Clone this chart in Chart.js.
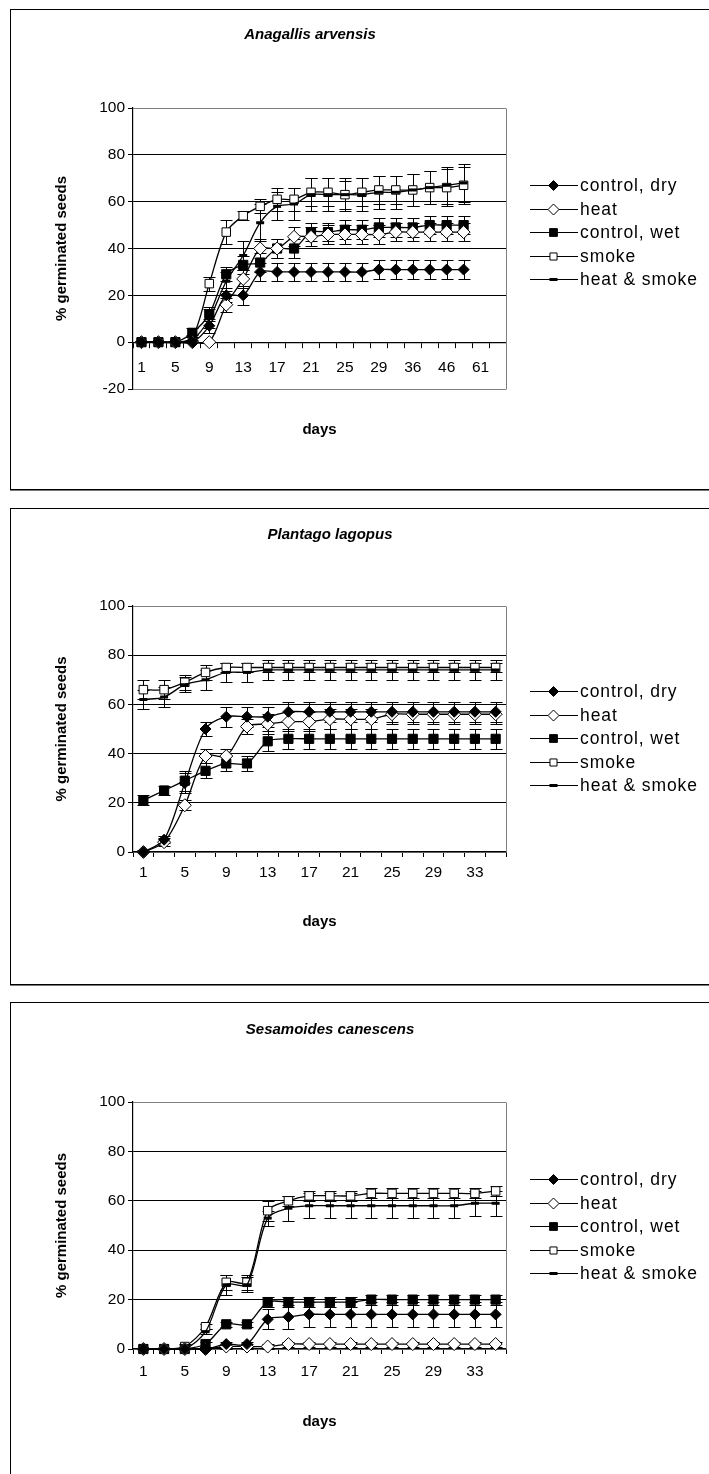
<!DOCTYPE html>
<html>
<head>
<meta charset="utf-8">
<script src="https://cdn.jsdelivr.net/npm/chart.js@4.4.1/dist/chart.umd.min.js"></script>
<style>
  html, body { margin: 0; padding: 0; background: #fff; width: 709px; height: 1474px; overflow: hidden; }
  .frame { position: absolute; left: 10px; width: 720px; border: 1px solid #000; box-shadow: 0 1px 0 #777; }
  canvas { position: absolute; left: 0; }
</style>
</head>
<body>
<div class="frame" style="top:9px;height:479px"></div>
<div class="frame" style="top:508px;height:475px"></div>
<div class="frame" style="top:1002px;height:520px"></div>
<canvas id="anagallis" width="709" height="480" style="top:9px"></canvas>
<canvas id="plantago" width="709" height="475" style="top:509px"></canvas>
<canvas id="sesamoides" width="709" height="471" style="top:1003px"></canvas>
<script>
// ---- series names ----
const SERIES_NAMES = ['control, dry', 'heat', 'control, wet', 'smoke', 'heat & smoke'];

// ---- Anagallis arvensis ----
const ANA_DAYS = [1, 3, 5, 7, 9, 11, 13, 15, 17, 19, 21, 23, 25, 27, 29, 32, 36, 41, 46, 53, 61, 68];
const ANA_CONTROL_DRY      = [0, 0, 0, 0, 7, 20, 20, 30, 30, 30, 30, 30, 30, 30, 31, 31, 31, 31, 31, 31];
const ANA_CONTROL_DRY_ERR  = [0, 0, 0, 0, 3, 3, 4, 4, 4, 4, 4, 4, 4, 4, 4, 4, 4, 4, 4, 4];
const ANA_HEAT             = [0, 0, 0, 0, 0, 16, 27, 40, 40, 45, 45, 46, 46, 46, 46, 47, 47, 47, 47, 47];
const ANA_HEAT_ERR         = [0, 0, 0, 0, 0, 3, 4, 4, 4, 4, 4, 4, 4, 4, 4, 4, 4, 4, 4, 4];
const ANA_CONTROL_WET      = [0, 0, 0, 4, 12, 29, 33, 34, 40, 40, 47, 47, 48, 48, 49, 49, 49, 50, 50, 50];
const ANA_CONTROL_WET_ERR  = [0, 0, 0, 2, 3, 3, 4, 4, 4, 4, 4, 4, 4, 4, 4, 4, 4, 4, 4, 4];
const ANA_SMOKE            = [0, 0, 0, 2, 25, 47, 54, 58, 61, 61, 64, 64, 63, 64, 65, 65, 65, 66, 66, 67];
const ANA_SMOKE_ERR        = [0, 0, 0, 1, 3, 5, 2, 3, 5, 5, 6, 6, 6, 6, 6, 6, 7, 7, 8, 8];
const ANA_HEAT_SMOKE       = [0, 0, 0, 1, 10, 26, 37, 51, 58, 59, 63, 63, 63, 63, 64, 64, 65, 66, 67, 68];
const ANA_HEAT_SMOKE_ERR   = [0, 0, 0, 1, 4, 4, 6, 8, 6, 7, 7, 7, 7, 7, 7, 7, 7, 7, 8, 8];

// ---- Plantago lagopus ----
const PLA_DAYS = [1, 3, 5, 7, 9, 11, 13, 15, 17, 19, 21, 23, 25, 27, 29, 31, 33, 35];
const PLA_CONTROL_DRY      = [0, 5, 28, 50, 55, 55, 55, 57, 57, 57, 57, 57, 57, 57, 57, 57, 57, 57];
const PLA_CONTROL_DRY_ERR  = [1, 1.5, 4, 3, 4, 4, 4, 4, 4, 4, 4, 4, 4, 4, 4, 4, 4, 4];
const PLA_HEAT             = [0, 4, 19, 39, 39, 51, 52, 53, 53, 54, 54, 54, 56, 56, 56, 56, 56, 56];
const PLA_HEAT_ERR         = [0, 1.5, 2, 3, 3, 3, 4, 4, 4, 4, 4, 4, 4, 4, 4, 4, 4, 4];
const PLA_CONTROL_WET      = [21, 25, 29, 33, 36, 36, 45, 46, 46, 46, 46, 46, 46, 46, 46, 46, 46, 46];
const PLA_CONTROL_WET_ERR  = [2, 2, 4, 3, 3, 3, 4, 4, 4, 4, 4, 4, 4, 4, 4, 4, 4, 4];
const PLA_SMOKE            = [66, 66, 69, 73, 75, 75, 75, 75, 75, 75, 75, 75, 75, 75, 75, 75, 75, 75];
const PLA_SMOKE_ERR        = [4, 4, 3, 3, 2, 2, 2, 2, 2, 2, 2, 2, 2, 2, 2, 2, 2, 2];
const PLA_HEAT_SMOKE       = [62, 63, 68, 70, 73, 73, 74, 74, 74, 74, 74, 74, 74, 74, 74, 74, 74, 74];
const PLA_HEAT_SMOKE_ERR   = [4, 4, 3, 4, 4, 4, 4, 4, 4, 4, 4, 4, 4, 4, 4, 4, 4, 4];

// ---- Sesamoides canescens ----
const SES_DAYS = [1, 3, 5, 7, 9, 11, 13, 15, 17, 19, 21, 23, 25, 27, 29, 31, 33, 35];
const SES_CONTROL_DRY      = [0, 0, 0, 0, 2, 2, 12, 13, 14, 14, 14, 14, 14, 14, 14, 14, 14, 14];
const SES_CONTROL_DRY_ERR  = [0, 0, 0, 0, 1, 1, 4, 5, 5, 5, 5, 5, 5, 5, 5, 5, 5, 5];
const SES_HEAT             = [0, 0, 0, 0, 1, 1, 1, 2, 2, 2, 2, 2, 2, 2, 2, 2, 2, 2];
const SES_HEAT_ERR         = [0, 0, 0, 0, 1, 1, 1, 1, 1, 1, 1, 1, 1, 1, 1, 1, 1, 1];
const SES_CONTROL_WET      = [0, 0, 0, 2, 10, 10, 19, 19, 19, 19, 19, 20, 20, 20, 20, 20, 20, 20];
const SES_CONTROL_WET_ERR  = [0, 0, 0, 1, 1, 1, 2, 2, 2, 2, 2, 2, 2, 2, 2, 2, 2, 2];
const SES_SMOKE            = [0, 0, 1, 9, 27, 27, 56, 60, 62, 62, 62, 63, 63, 63, 63, 63, 63, 64];
const SES_SMOKE_ERR        = [0, 0, 1, 1, 3, 3, 4, 2, 2, 2, 2, 2, 2, 2, 2, 2, 2, 2];
const SES_HEAT_SMOKE       = [0, 0, 0, 7, 26, 26, 53, 57, 58, 58, 58, 58, 58, 58, 58, 58, 59, 59];
const SES_HEAT_SMOKE_ERR   = [0, 0, 0, 1, 4, 3, 3, 5, 5, 5, 5, 5, 5, 5, 5, 5, 5, 5];

// ---- axis ticks ----
const Y_TICKS_ANA = [-20, 0, 20, 40, 60, 80, 100];
const Y_TICKS_STD = [0, 20, 40, 60, 80, 100];

const FONT = '"Liberation Sans", Arial, Helvetica, sans-serif';

// marker appearance per series
const MARKERS = [
  { style: 'rectRot', radius: 5.5, fill: '#000', border: 1 },
  { style: 'rectRot', radius: 6.5, fill: '#fff', border: 1 },
  { style: 'rect',    radius: 6.5, fill: '#000', border: 1 },
  { style: 'rect',    radius: 6,   fill: '#fff', border: 1 },
  { style: 'line',    radius: 4,   fill: '#000', border: 3 }
];
const LEGEND_MARKERS = [
  { style: 'rectRot', radius: 5,   fill: '#000', border: 1 },
  { style: 'rectRot', radius: 5.5, fill: '#fff', border: 1 },
  { style: 'rect',    radius: 5.5, fill: '#000', border: 1 },
  { style: 'rect',    radius: 5,   fill: '#fff', border: 1 },
  { style: 'line',    radius: 4,   fill: '#000', border: 3 }
];

// vertical error bars with caps, drawn beneath the markers
const errorBars = {
  id: 'errorBars',
  beforeDatasetsDraw(chart) {
    const ctx = chart.ctx;
    const ys = chart.scales.y;
    const area = chart.chartArea;
    ctx.save();
    ctx.beginPath();
    ctx.rect(area.left, area.top - 1, area.right - area.left, area.bottom - area.top + 2);
    ctx.clip();
    ctx.strokeStyle = '#000';
    ctx.lineWidth = 1;
    chart.data.datasets.forEach((ds, i) => {
      if (!ds.errors) return;
      const meta = chart.getDatasetMeta(i);
      meta.data.forEach((pt, j) => {
        const v = ds.data[j];
        const e = ds.errors[j];
        if (v == null || !e) return;
        const x = Math.round(pt.x) + 0.5;
        const yTop = Math.round(ys.getPixelForValue(v + e)) + 0.5;
        const yBot = Math.round(ys.getPixelForValue(v - e)) + 0.5;
        ctx.beginPath();
        ctx.moveTo(x, yTop); ctx.lineTo(x, yBot);
        ctx.moveTo(x - 6, yTop); ctx.lineTo(x + 6, yTop);
        ctx.moveTo(x - 6, yBot); ctx.lineTo(x + 6, yBot);
        ctx.stroke();
      });
    });
    ctx.restore();
  }
};

// grey plot-area frame on the right
const plotFrame = {
  id: 'plotFrame',
  beforeDatasetsDraw(chart) {
    const { ctx, chartArea: a } = chart;
    ctx.save();
    ctx.strokeStyle = '#808080';
    ctx.lineWidth = 1;
    ctx.beginPath();
    ctx.moveTo(Math.round(a.right) + 0.5, Math.round(a.top) + 0.5);
    ctx.lineTo(Math.round(a.right) + 0.5, Math.round(a.bottom) + 0.5);
    ctx.stroke();
    ctx.restore();
  }
};

// chart heading (bold italic species name) and the "days" axis caption
const panelText = {
  id: 'panelText',
  afterDraw(chart, args, opts) {
    const { ctx, chartArea: a } = chart;
    ctx.save();
    ctx.fillStyle = '#000';
    ctx.textAlign = 'center';
    ctx.textBaseline = 'middle';
    ctx.font = 'italic bold 15px ' + FONT;
    ctx.fillText(opts.title, opts.titleX, opts.titleY);
    ctx.font = 'bold 15px ' + FONT;
    ctx.fillText('days', (a.left + a.right) / 2, opts.daysY);
    ctx.restore();
  }
};

function drawMarker(ctx, m, x, y) {
  ctx.save();
  ctx.fillStyle = m.fill;
  ctx.strokeStyle = '#000';
  ctx.lineWidth = m.border;
  ctx.beginPath();
  if (m.style === 'rectRot') {
    const r = m.radius;
    ctx.moveTo(x, y - r); ctx.lineTo(x + r, y); ctx.lineTo(x, y + r); ctx.lineTo(x - r, y); ctx.closePath();
    ctx.fill(); ctx.stroke();
  } else if (m.style === 'rect') {
    const h = Math.SQRT1_2 * m.radius;
    ctx.rect(x - h, y - h, 2 * h, 2 * h);
    ctx.fill(); ctx.stroke();
  } else {
    ctx.moveTo(x - m.radius, y); ctx.lineTo(x + m.radius, y);
    ctx.stroke();
  }
  ctx.restore();
}

// legend at the right: line sample with marker, then the series name
const sideLegend = {
  id: 'sideLegend',
  afterDraw(chart, args, opts) {
    const ctx = chart.ctx;
    const n = chart.data.datasets.length;
    const gap = 23.5;
    const y0 = opts.centerY - (n - 1) / 2 * gap;
    chart.data.datasets.forEach((ds, i) => {
      const y = Math.round(y0 + i * gap) + 0.5;
      ctx.save();
      ctx.strokeStyle = '#000';
      ctx.lineWidth = 1;
      ctx.beginPath();
      ctx.moveTo(530, y); ctx.lineTo(578, y);
      ctx.stroke();
      ctx.restore();
      drawMarker(ctx, LEGEND_MARKERS[i], 553.5, y);
      ctx.save();
      ctx.fillStyle = '#000';
      ctx.font = '17.5px ' + FONT;
      ctx.letterSpacing = '0.9px';
      ctx.textBaseline = 'middle';
      ctx.fillText(ds.label, 580, y + 1);
      ctx.restore();
    });
  }
};

function series(values, errors, i) {
  const m = MARKERS[i];
  return {
    label: SERIES_NAMES[i],
    data: values,
    errors: errors,
    borderColor: '#000',
    borderWidth: 1.3,
    tension: 0.3,
    pointStyle: m.style,
    pointRadius: m.radius,
    pointHoverRadius: m.radius,
    pointBackgroundColor: m.fill,
    pointBorderColor: '#000',
    pointBorderWidth: m.border,
    order: i === 4 ? 0 : i + 1,
    clip: false
  };
}

function buildChart(id, cfg) {
  const yMin = cfg.yTicks[0];
  const yMax = cfg.yTicks[cfg.yTicks.length - 1];
  const xScale = {
    type: 'category',
    offset: true,
    grid: {
      offset: true,
      drawOnChartArea: false,
      drawTicks: true,
      tickLength: 5,
      color: '#000',
      tickColor: '#000'
    },
    border: { display: true, color: '#000', width: 1.2 },
    ticks: {
      autoSkip: false,
      maxRotation: 0,
      padding: cfg.xLabelPad,
      color: '#000',
      font: { family: FONT, size: 15.5 },
      callback: function (v, idx) { return idx % 2 === 0 ? this.getLabelForValue(v) : ''; }
    }
  };
  if (cfg.xAtZero) {
    xScale.position = { y: 0 };
  } else {
    xScale.position = 'bottom';
    xScale.afterFit = (s) => { s.height = 40; };
  }
  return new Chart(document.getElementById(id), {
    type: 'line',
    data: { labels: cfg.days, datasets: cfg.sets },
    options: {
      responsive: false,
      maintainAspectRatio: false,
      animation: false,
      events: [],
      layout: { padding: { left: 0, right: 203, top: cfg.plotTop, bottom: cfg.bottomSpace } },
      plugins: {
        legend: { display: false },
        tooltip: { enabled: false },
        title: { display: false },
        panelText: { title: cfg.title, titleX: cfg.titleX, titleY: cfg.titleY, daysY: cfg.daysY },
        sideLegend: { centerY: cfg.legendY }
      },
      scales: {
        x: xScale,
        y: {
          min: yMin,
          max: yMax,
          afterFit: (s) => { s.width = 133; },
          afterBuildTicks: (s) => { s.ticks = cfg.yTicks.map(v => ({ value: v })); },
          grid: {
            drawTicks: true,
            tickLength: 5,
            color: (c) => (c.tick && (c.tick.value === yMax || c.tick.value === yMin)) ? '#808080' : '#000',
            tickColor: '#000',
            lineWidth: 1
          },
          border: { display: true, color: '#000', width: 1.2 },
          ticks: {
            padding: 3,
            color: '#000',
            font: { family: FONT, size: 15.5 }
          },
          title: {
            display: true,
            text: '% germinated seeds',
            color: '#000',
            font: { family: FONT, size: 15, weight: 'bold' },
            padding: { top: 53, bottom: 0 }
          }
        }
      }
    },
    plugins: [plotFrame, errorBars, sideLegend, panelText]
  });
}

buildChart('anagallis', {
  title: 'Anagallis arvensis',
  titleX: 310, titleY: 26,
  days: ANA_DAYS,
  yTicks: Y_TICKS_ANA,
  xAtZero: true,
  xLabelPad: 11,
  plotTop: 99, bottomSpace: 100, daysY: 421,
  legendY: 223,
  sets: [
    series(ANA_CONTROL_DRY, ANA_CONTROL_DRY_ERR, 0),
    series(ANA_HEAT, ANA_HEAT_ERR, 1),
    series(ANA_CONTROL_WET, ANA_CONTROL_WET_ERR, 2),
    series(ANA_SMOKE, ANA_SMOKE_ERR, 3),
    series(ANA_HEAT_SMOKE, ANA_HEAT_SMOKE_ERR, 4)
  ]
});

buildChart('plantago', {
  title: 'Plantago lagopus',
  titleX: 330, titleY: 26,
  days: PLA_DAYS,
  yTicks: Y_TICKS_STD,
  xAtZero: false,
  xLabelPad: 6,
  plotTop: 97, bottomSpace: 92, daysY: 413,
  legendY: 229,
  sets: [
    series(PLA_CONTROL_DRY, PLA_CONTROL_DRY_ERR, 0),
    series(PLA_HEAT, PLA_HEAT_ERR, 1),
    series(PLA_CONTROL_WET, PLA_CONTROL_WET_ERR, 2),
    series(PLA_SMOKE, PLA_SMOKE_ERR, 3),
    series(PLA_HEAT_SMOKE, PLA_HEAT_SMOKE_ERR, 4)
  ]
});

buildChart('sesamoides', {
  title: 'Sesamoides canescens',
  titleX: 330, titleY: 27,
  days: SES_DAYS,
  yTicks: Y_TICKS_STD,
  xAtZero: false,
  xLabelPad: 8,
  plotTop: 99, bottomSpace: 85, daysY: 419,
  legendY: 223,
  sets: [
    series(SES_CONTROL_DRY, SES_CONTROL_DRY_ERR, 0),
    series(SES_HEAT, SES_HEAT_ERR, 1),
    series(SES_CONTROL_WET, SES_CONTROL_WET_ERR, 2),
    series(SES_SMOKE, SES_SMOKE_ERR, 3),
    series(SES_HEAT_SMOKE, SES_HEAT_SMOKE_ERR, 4)
  ]
});
</script>
</body>
</html>
